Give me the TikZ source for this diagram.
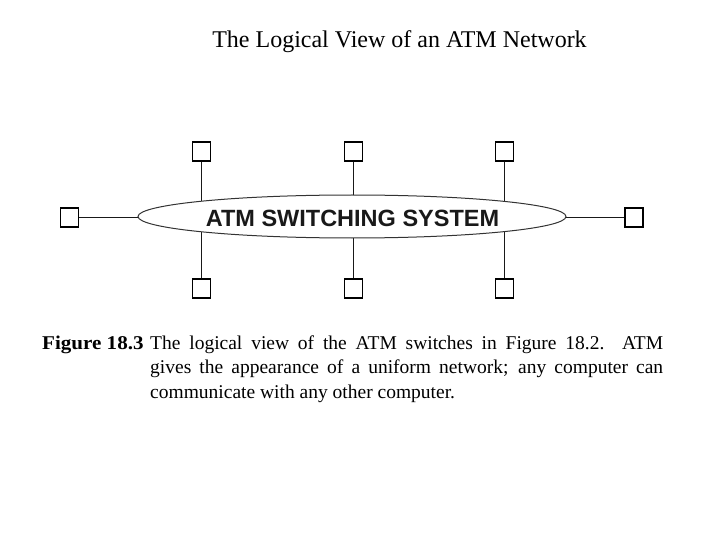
\documentclass[tikz,border=0pt]{standalone}
\usepackage{fontspec}
\setmainfont{Liberation Serif}
\newfontfamily\helv{Liberation Sans}
\usetikzlibrary{shapes.geometric}
\tikzset{
  pc/.style={draw=black, line width=1.5pt, fill=white, minimum width=18pt, minimum height=19pt, inner sep=0pt},
  wire/.style={draw=black!90, line width=1.4pt},
  captext/.style={inner sep=0pt, font=\fontsize{19.5}{24.5}\selectfont, anchor=base west},
}
\begin{document}
\begin{tikzpicture}[x=1pt,y=-1pt]
\useasboundingbox (0,0) rectangle (720,540);
% title
\node[inner sep=0pt, anchor=base, font=\fontsize{24}{28}\selectfont] (title) at (399.5,48) {The Logical View of an ATM Network};
% computers
\node[pc] (t1) at (201.5,151.5) {};
\node[pc] (t2) at (353.5,151.5) {};
\node[pc] (t3) at (504.5,151.5) {};
\node[pc] (b1) at (201.5,288.5) {};
\node[pc] (b2) at (353.5,288.5) {};
\node[pc] (b3) at (504.5,288.5) {};
\node[pc] (l) at (69.5,217.5) {};
\node[pc] (r) at (634,217.5) {};
% wires (hidden behind the switching system)
\draw[wire] (t1) -- (b1);
\draw[wire] (t2) -- (b2);
\draw[wire] (t3) -- (b3);
\draw[wire] (l) -- (r);
% switching system
\node[ellipse, draw=black!80, line width=1pt, fill=white, minimum width=428pt, minimum height=43pt, inner sep=0pt] (atm) at (352,216.5) {};
\node[inner sep=0pt, anchor=base, font=\helv\bfseries\fontsize{23.5}{26}\selectfont, text=black!90] (atmtext) at (352.5,226) {ATM SWITCHING SYSTEM};
% caption
\node[captext] (fig) at (42,349) {\scalebox{1.08}[1]{\bfseries Figure 18.3}};
\node[captext] (c1) at (150,349) {\makebox[513pt][s]{The logical view of the ATM switches in Figure 18.2.\ \ ATM}};
\node[captext] (c2) at (150,373.5) {\makebox[513pt][s]{gives the appearance of a uniform network; any computer can}};
\node[captext] (c3) at (150,398) {communicate with any other computer.};
\end{tikzpicture}
\end{document}
